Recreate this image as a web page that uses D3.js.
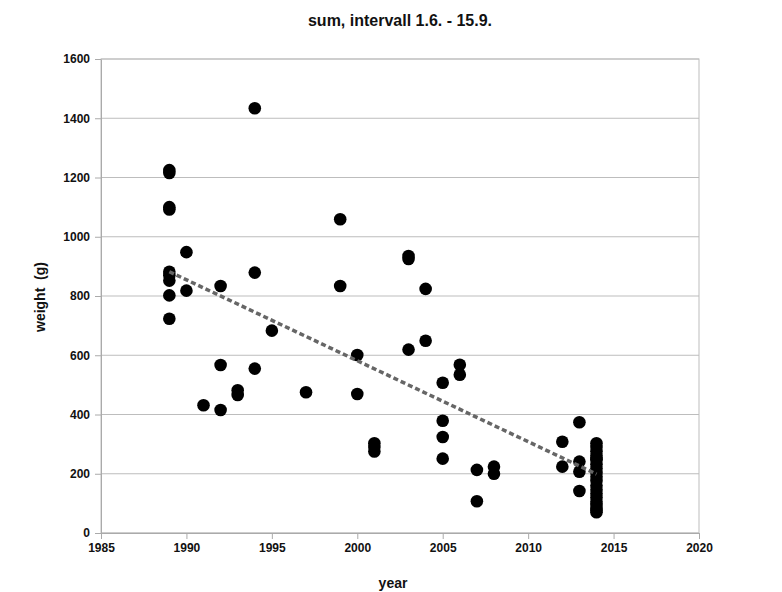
<!DOCTYPE html>
<html>
<head>
<meta charset="utf-8">
<script src="https://cdn.jsdelivr.net/npm/d3@7"></script>
<style>
  body { margin: 0; background: #fff; }
  text { font-family: "Liberation Sans", Arial, sans-serif; font-weight: bold; fill: #111; }
</style>
</head>
<body>
<svg id="chart" width="782" height="592"></svg>
<script>
// observations: year and weight (g)
const years = [
	1989, 1989, 1989, 1989, 1989, 1989, 1989, 1989, 1989,
	1990, 1990,
	1991,
	1992, 1992, 1992,
	1993, 1993,
	1994, 1994, 1994,
	1995,
	1997,
	1999, 1999,
	2000, 2000,
	2001, 2001, 2001,
	2003, 2003, 2003,
	2004, 2004,
	2005, 2005, 2005, 2005,
	2006, 2006,
	2007, 2007,
	2008, 2008,
	2012, 2012,
	2013, 2013, 2013, 2013,
	2014, 2014, 2014, 2014, 2014, 2014, 2014, 2014, 2014, 2014,
	2014, 2014, 2014, 2014, 2014, 2014, 2014, 2014, 2014, 2014
];
const weights = [
	1225, 1215, 1100, 1092, 882, 852, 802, 723, 870,
	948, 818,
	431,
	834, 567, 415,
	482, 466,
	1434, 879, 555,
	683,
	475,
	1059, 834,
	601, 469,
	303, 290, 275,
	935, 925, 619,
	824, 649,
	507, 379, 324, 251,
	568, 534,
	213, 107,
	224, 200,
	308, 224,
	374, 241, 207, 142,
	303, 290, 276, 262, 248, 232, 218, 203, 190, 176,
	160, 146, 133, 120, 106, 95, 85, 77, 70, 250
];
// linear trend line end points
const trendYears = [1989, 2014];
const trendWeights = [882, 199];

const xTicks = [1985, 1990, 1995, 2000, 2005, 2010, 2015, 2020];
const yTicks = [0, 200, 400, 600, 800, 1000, 1200, 1400, 1600];

const svg = d3.select("#chart");
const plotLeft = 101, plotRight = 699, plotTop = 59, plotBottom = 533;

const x = d3.scaleLinear().domain([1985, 2020]).range([plotLeft, plotRight]);
const y = d3.scaleLinear().domain([0, 1600]).range([plotBottom, plotTop]);

// grid
svg.append("g")
	.selectAll("line")
	.data(yTicks)
	.enter()
	.append("line")
	.attr("x1", plotLeft)
	.attr("x2", plotRight)
	.attr("y1", d => y(d))
	.attr("y2", d => y(d))
	.attr("stroke", "#bdbdbd")
	.attr("stroke-width", 1);

svg.append("rect")
	.attr("x", plotLeft)
	.attr("y", plotTop)
	.attr("width", plotRight - plotLeft)
	.attr("height", plotBottom - plotTop)
	.attr("fill", "none")
	.attr("stroke", "#bdbdbd");

// axes
const xAxis = svg.append("g")
	.attr("transform", `translate(0,${plotBottom})`)
	.call(d3.axisBottom(x).tickValues(xTicks).tickFormat(d3.format("d")).tickSize(6).tickSizeOuter(0).tickPadding(4));
const yAxis = svg.append("g")
	.attr("transform", `translate(${plotLeft},0)`)
	.call(d3.axisLeft(y).tickValues(yTicks).tickFormat(d3.format("d")).tickSize(6).tickSizeOuter(0).tickPadding(5));

[xAxis, yAxis].forEach(a => {
	a.select(".domain").attr("stroke", "#aaa");
	a.selectAll(".tick line").attr("stroke", "#aaa");
	a.selectAll(".tick text")
		.attr("fill", "#111")
		.style("font-size", "12px")
		.style("font-weight", "bold")
		.style("font-family", "'Liberation Sans', Arial, sans-serif");
});

// points
const points = years.map((yr, i) => ({ year: yr, weight: weights[i] }));
svg.append("g")
	.selectAll("circle")
	.data(points)
	.enter()
	.append("circle")
	.attr("cx", d => x(d.year))
	.attr("cy", d => y(d.weight))
	.attr("r", 6.3)
	.attr("fill", "#000");

// trend
svg.append("line")
	.attr("x1", x(trendYears[0]))
	.attr("y1", y(trendWeights[0]))
	.attr("x2", x(trendYears[1]))
	.attr("y2", y(trendWeights[1]))
	.attr("stroke", "#666")
	.attr("stroke-width", 3.5)
	.attr("stroke-dasharray", "5,3");

// titles
svg.append("text")
	.attr("x", 400)
	.attr("y", 26)
	.attr("text-anchor", "middle")
	.style("font-size", "16px")
	.text("sum, intervall 1.6. - 15.9.");

svg.append("text")
	.attr("x", 393)
	.attr("y", 588)
	.attr("text-anchor", "middle")
	.style("font-size", "14px")
	.text("year");

svg.append("text")
	.attr("transform", "translate(45,297) rotate(-90)")
	.attr("text-anchor", "middle")
	.style("font-size", "14px")
	.style("white-space", "pre")
	.text("weight  (g)");
</script>
</body>
</html>
